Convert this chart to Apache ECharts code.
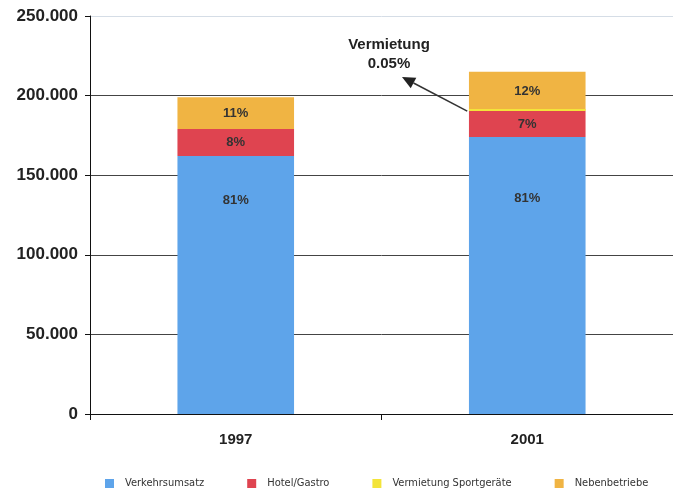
<!DOCTYPE html>
<html>
<head>
<meta charset="utf-8">
<script src="https://cdn.jsdelivr.net/npm/echarts@6/dist/echarts.min.js"></script>
<style>
html, body { margin: 0; padding: 0; background: #fff; }
#container { width: 673px; height: 496px; }
</style>
</head>
<body>
<div id="container"></div>
<script>
var dom = document.getElementById("container");
var myChart = echarts.init(dom);

// Jahre
var years = ['1997', '2001'];
// Umsatz je Bereich
var verkehr = [162000, 174000];
var hotel = [17000, 16300];
var vermietung = ['-', 110];
var neben = [20000, 24500];
// Prozent-Beschriftung
var verkehrPct = ['81%', '81%'];
var hotelPct = ['8%', '7%'];
var nebenPct = ['11%', '12%'];
var yTicks = [0, 50000, 100000, 150000, 200000, 250000];

// 81%-Beschriftung liegt im oberen Teil des Balkens
var verkehrLabelTop = [44, 61];

function fmt(v) {
    return String(v).replace(/(\d)(?=(\d{3})+$)/g, '$1.');
}

function pctLabel(arr) {
    return {
        show: true,
        position: 'inside',
        color: '#333',
        fontWeight: 'bold',
        fontSize: 13,
        fontFamily: 'Liberation Sans',
        formatter: function (p) { return arr[p.dataIndex]; }
    };
}

var verkehrData = verkehr.map(function (v, i) {
    return { value: v, label: { position: ['50%', verkehrLabelTop[i]], align: 'center', verticalAlign: 'middle' } };
});

var option = {
    backgroundColor: '#fff',
    animation: false,
    grid: { left: 90, right: 0, top: 16, bottom: 82 },
    legend: {
        bottom: 2,
        left: 100,
        itemWidth: 9,
        itemHeight: 9,
        itemGap: 43,
        icon: 'rect',
        textStyle: { fontFamily: 'DejaVu Sans Condensed', fontSize: 11, color: '#333', padding: [0, 0, 0, 6] },
        data: ['Verkehrsumsatz', 'Hotel/Gastro', 'Vermietung Sportgeräte', 'Nebenbetriebe']
    },
    xAxis: {
        type: 'category',
        data: years,
        axisLine: { lineStyle: { color: '#111', width: 1 } },
        axisTick: { show: true, length: 6, lineStyle: { color: '#111' } },
        axisLabel: { color: '#222', fontWeight: 'bold', fontSize: 15, fontFamily: 'Liberation Sans', margin: 18 }
    },
    yAxis: {
        type: 'value',
        min: yTicks[0],
        max: yTicks[yTicks.length - 1],
        interval: 50000,
        axisLine: { show: true, lineStyle: { color: '#111' } },
        axisTick: { show: true, length: 5, lineStyle: { color: '#111' } },
        axisLabel: {
            color: '#222', fontWeight: 'bold', fontSize: 17, fontFamily: 'Liberation Sans', margin: 12,
            formatter: function (v) { return fmt(v); }
        },
        splitLine: { lineStyle: { color: ['#444', '#444', '#444', '#444', '#444', '#d5dde6'], width: 1 } }
    },
    series: [
        {
            name: 'Verkehrsumsatz', type: 'bar', stack: 'u', barWidth: '40%',
            itemStyle: { color: '#5ea4ea' },
            label: pctLabel(verkehrPct),
            data: verkehrData
        },
        {
            name: 'Hotel/Gastro', type: 'bar', stack: 'u',
            itemStyle: { color: '#df4450' },
            label: pctLabel(hotelPct),
            data: hotel
        },
        {
            name: 'Vermietung Sportgeräte', type: 'bar', stack: 'u',
            barMinHeight: 2,
            z: 3,
            itemStyle: { color: '#f3e43a' },
            data: vermietung
        },
        {
            name: 'Nebenbetriebe', type: 'bar', stack: 'u',
            itemStyle: { color: '#f0b443' },
            label: pctLabel(nebenPct),
            data: neben
        }
    ]
};

myChart.setOption(option, true);

// Pfeil zur Vermietung-Beschriftung
var base = myChart.convertToPixel({ seriesIndex: 0 }, [1, verkehr[1] + hotel[1]]);
var x0 = base[0] - 60, y0 = base[1];
var tx = 402, ty = 77;
var ang = Math.atan2(y0 - ty, x0 - tx);
var hl = 13, hw = 6;
var bx = tx + Math.cos(ang) * hl, by = ty + Math.sin(ang) * hl;
myChart.setOption({
    graphic: [
        {
            type: 'line',
            shape: { x1: x0, y1: y0, x2: bx, y2: by },
            style: { stroke: '#333', lineWidth: 1.5 }
        },
        {
            type: 'polygon',
            shape: {
                points: [
                    [tx, ty],
                    [bx + Math.sin(ang) * hw, by - Math.cos(ang) * hw],
                    [bx - Math.sin(ang) * hw, by + Math.cos(ang) * hw]
                ]
            },
            style: { fill: '#222' }
        },
        {
            type: 'text',
            x: 389, y: 45,
            style: {
                text: 'Vermietung',
                align: 'center',
                verticalAlign: 'middle',
                fill: '#222',
                font: 'bold 15px "Liberation Sans"'
            }
        },
        {
            type: 'text',
            x: 389, y: 64,
            style: {
                text: '0.05%',
                align: 'center',
                verticalAlign: 'middle',
                fill: '#222',
                font: 'bold 15px "Liberation Sans"'
            }
        }
    ]
});
</script>
</body>
</html>
